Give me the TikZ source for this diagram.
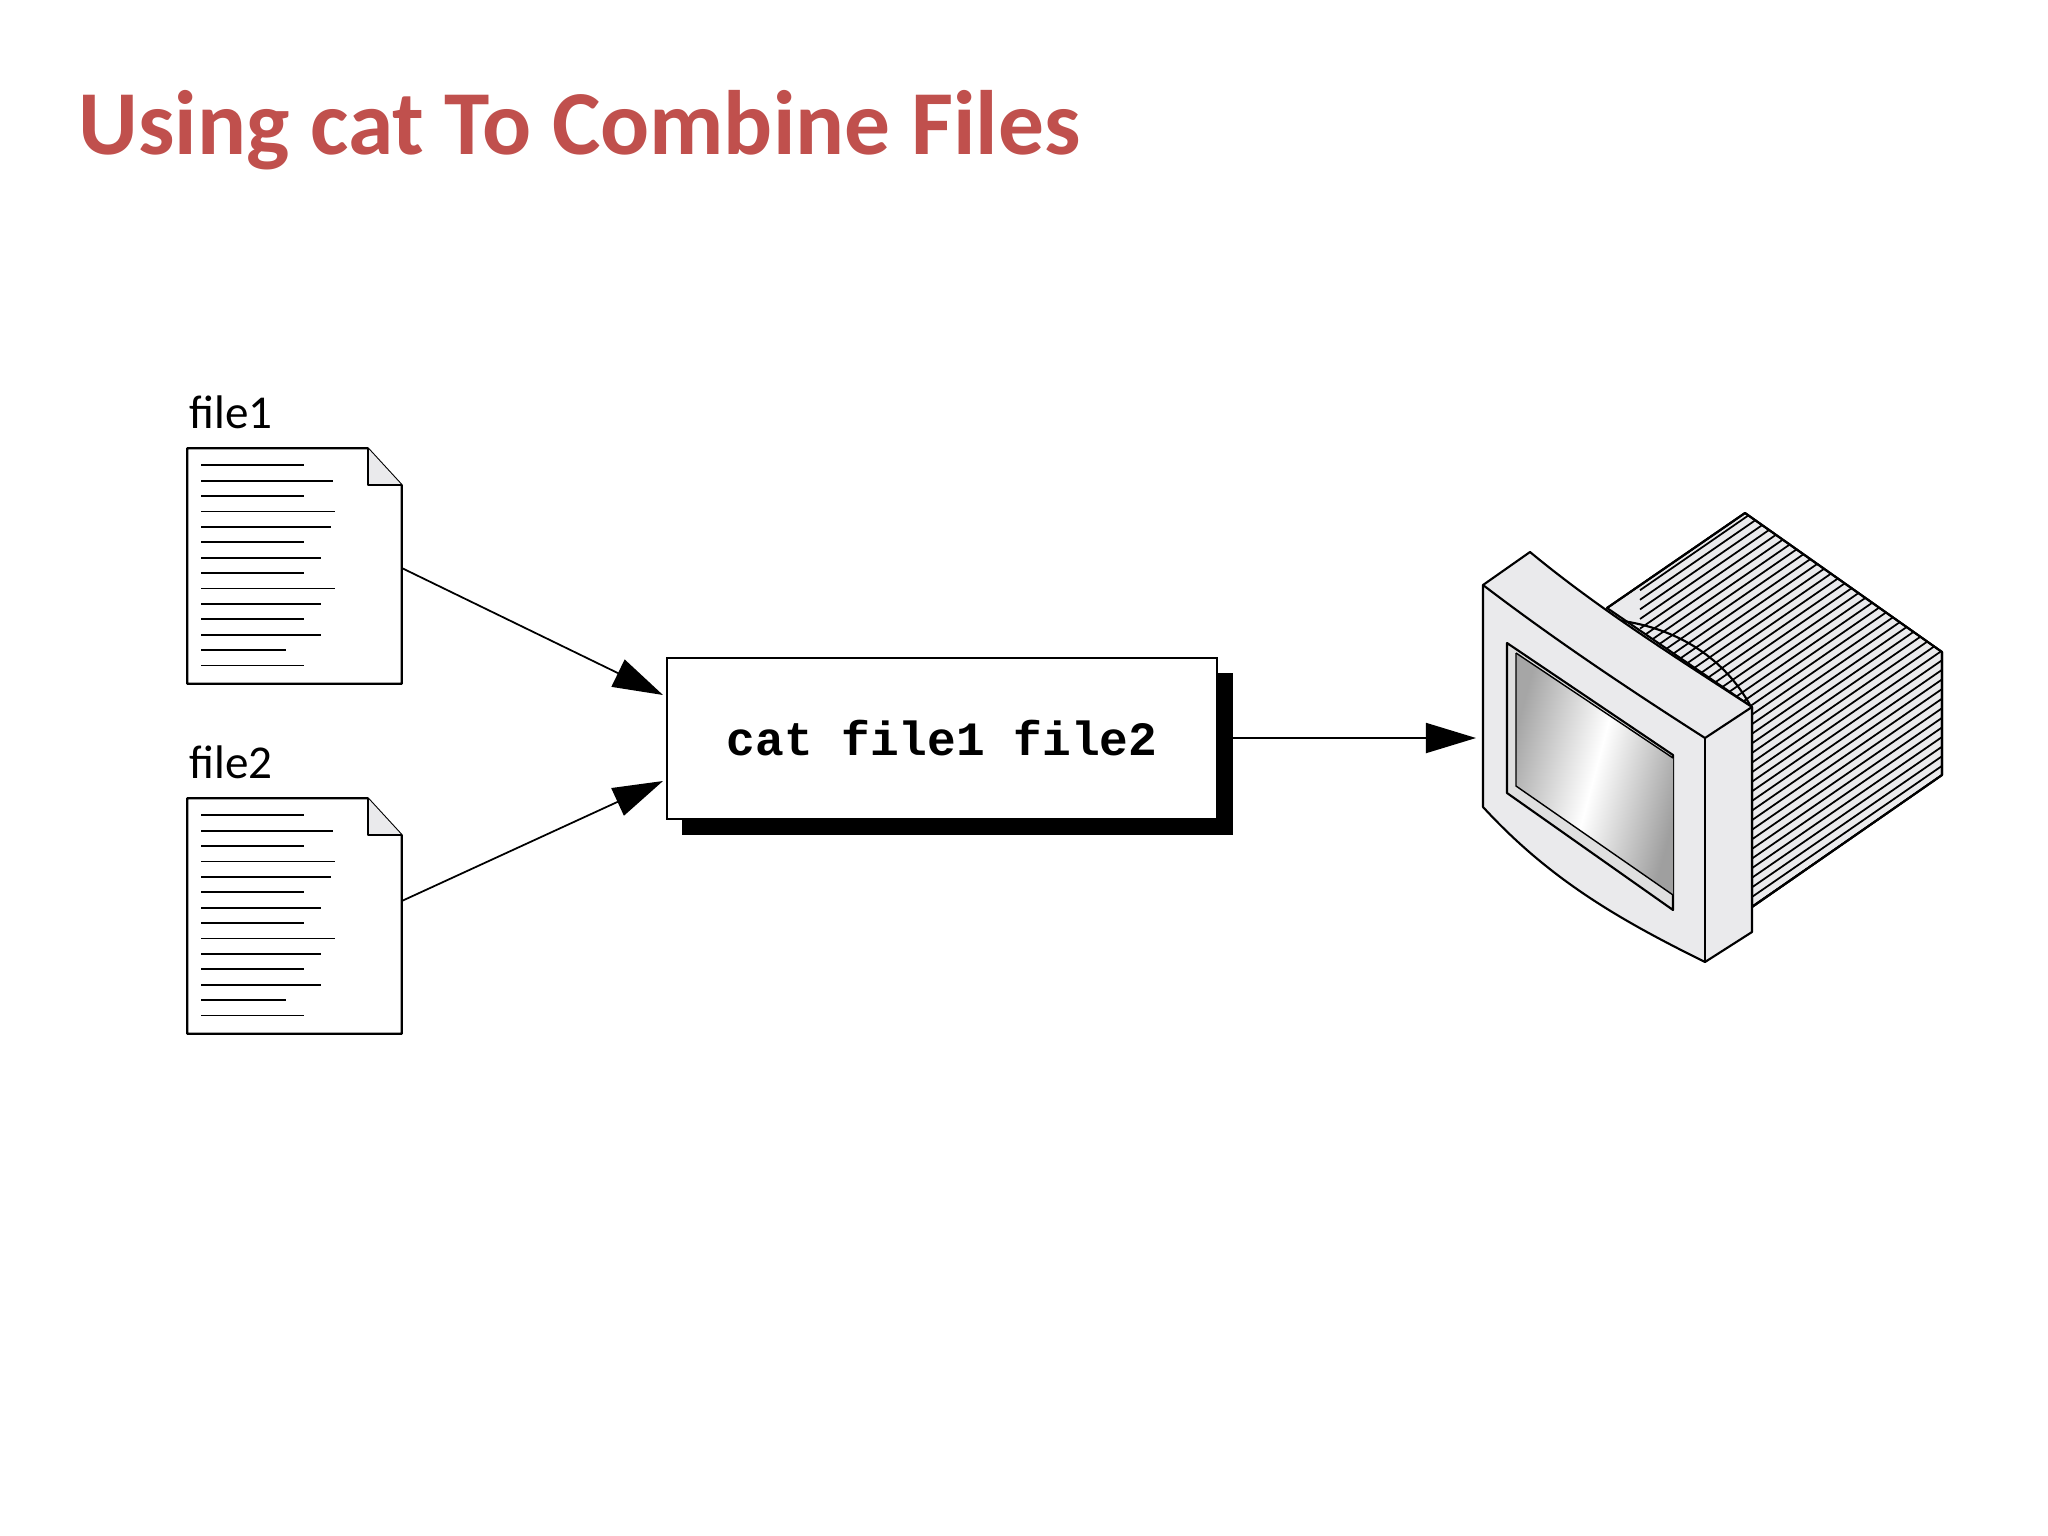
\documentclass[tikz,border=0pt]{standalone}
\usepackage{fontspec}
\setmainfont{Carlito}
\newfontfamily\monob{Liberation Mono}
\usetikzlibrary{arrows.meta,calc}
\definecolor{titlered}{RGB}{192,80,77}
\definecolor{bez}{RGB}{234,234,236}
\begin{document}
\begin{tikzpicture}[x=0.01cm,y=-0.01cm,
  page/.style={draw=none,minimum width=2.13cm,minimum height=2.34cm,inner sep=0},
  lbl/.style={font=\fontsize{13.4}{16}\selectfont,anchor=base west,inner sep=0},
  conn/.style={line width=0.5pt,-{Triangle[length=0.5cm,width=0.3cm]}},
  edge/.style={line width=0.6pt,line join=round}]
\useasboundingbox (0,0) rectangle (2048,1536);
\fill[white] (0,0) rectangle (2048,1536);
\node[anchor=base west,inner sep=0,text=titlered,font=\fontsize{26}{31}\selectfont\bfseries] (title) at (78,154) {Using cat To Combine Files};

% documents
\node[lbl] (l1) at (189,428) {file1};
\node[lbl] (l2) at (189,778) {file2};
\node[page] (d1) at (294.5,566) {};
\node[page] (d2) at (294.5,916) {};
\foreach \d in {d1,d2}{
  \draw[edge,fill=white] (\d.north west) -- ($(\d.north east)+(-34,0)$) -- ($(\d.north east)+(0,37)$) -- (\d.south east) -- (\d.south west) -- cycle;
  \draw[edge,fill=bez] ($(\d.north east)+(-34,0)$) -- ($(\d.north east)+(-34,37)$) -- ($(\d.north east)+(0,37)$);
  \foreach \i/\w in {0/103,1/132,2/103,3/134,4/130,5/103,6/120,7/103,8/134,9/120,10/103,11/120,12/85,13/103}{
    \draw[line width=0.5pt] ($(\d.north west)+(14,17+15.4*\i)$) -- ++(\w,0);
  }
}

% command box
\fill[black] (682,673) rectangle (1233,835);
\node[draw,line width=0.6pt,fill=white,minimum width=5.5cm,minimum height=1.61cm,inner sep=0,
  font=\monob\fontsize{13.6}{16}\selectfont\bfseries] (box) at (942,738.5) {cat file1 file2};
\coordinate (b1) at (663,695);
\coordinate (b2) at (663,781);
\coordinate (bo) at (1233,738);
\coordinate (mon) at (1476,738);
\draw[conn] ($(d1.east)+(0,2)$) -- (b1);
\draw[conn] ($(d2.east)+(0,-15)$) -- (b2);
\draw[conn] (bo) -- (mon);

% monitor back box
\coordinate (B1) at (1607,608);
\coordinate (B2) at (1745,513);
\coordinate (B3) at (1942,652);
\coordinate (B4) at (1942,775);
\coordinate (B5) at (1752,907);
\coordinate (T2) at (1752,707);
\draw[edge,fill=bez] (B1) -- (B2) -- (B3) -- (B4) -- (B5) -- (T2) -- cycle;
\begin{scope}
\clip (B1) -- (B2) -- (B3) -- (B4) -- (B5) -- (T2) -- cycle;
\foreach \t in {-22,...,42}{
  \draw[line width=0.5pt] ($(1640,715)+(0,9.6*\t)$) -- ++(400,-276);
}
\end{scope}
\draw[edge] (B1) -- (B2) -- (B3) -- (B4) -- (B5);
\draw[edge] (1616,620) .. controls (1680,628) and (1725,660) .. (1750,705);

% bezel
\coordinate (F1) at (1483,585);
\coordinate (T1) at (1530,552);
\coordinate (F2) at (1705,738);
\coordinate (F3) at (1705,962);
\coordinate (F4) at (1483,807);
\coordinate (S3) at (1752,932);
\draw[edge,fill=bez] (F1) -- (T1) .. controls (1600,610) and (1680,660) .. (T2) -- (S3) -- (F3)
  .. controls (1620,920) and (1550,880) .. (F4) -- cycle;
\draw[edge] (F1) .. controls (1555,640) and (1630,690) .. (F2) -- (T2);
\draw[edge] (F2) -- (F3);
% screen
\draw[edge,fill=gray!25] (1507,643) -- (1673,755) -- (1673,910) -- (1507,793) -- cycle;
\shade[left color=gray!70,right color=gray!75,middle color=white,shading angle=75]
  (1516,653) -- (1673,758) -- (1673,895) -- (1516,786) -- cycle;
\draw[line width=0.4pt] (1516,653) -- (1673,758);
\draw[line width=0.4pt] (1516,653) -- (1516,786) -- (1673,895);
\end{tikzpicture}
\end{document}
